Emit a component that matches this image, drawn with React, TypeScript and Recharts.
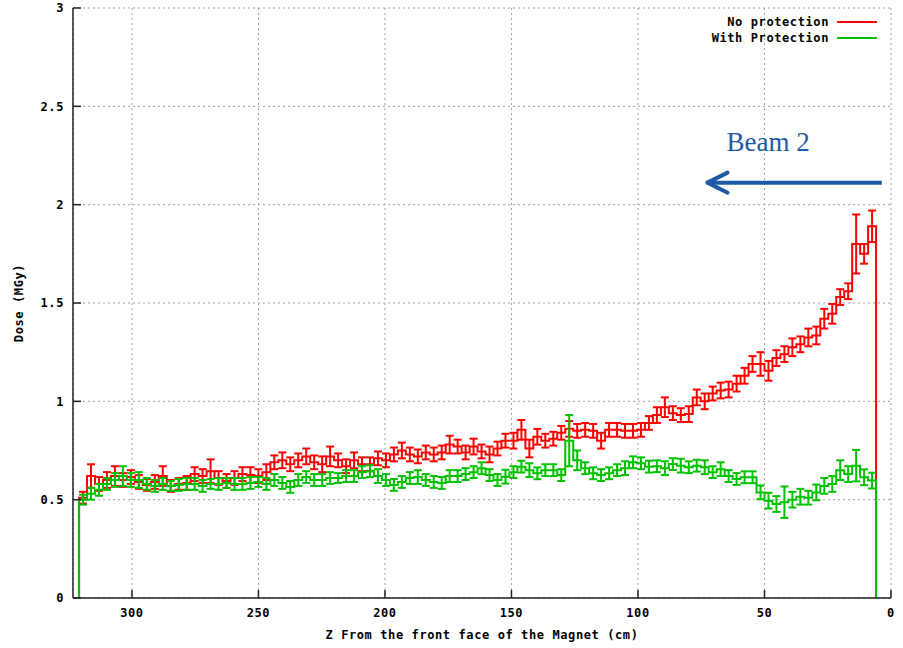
import React from "react";
import {
  ComposedChart,
  Line,
  XAxis,
  YAxis,
  CartesianGrid,
  ErrorBar,
  ReferenceLine,
  ReferenceDot,
} from "recharts";

// Histogram binning along Z (cm): first bin starts at the highest Z, bins go towards the magnet face
const BIN_START = 320.9;
const BIN_WIDTH = 3.15;

// Dose per bin (MGy), ordered from Z = 321 cm down to Z = 6 cm
const noProtection = [
  0.51, 0.62, 0.58, 0.6, 0.62, 0.6, 0.615, 0.59, 0.575, 0.59,
  0.62, 0.57, 0.58, 0.585, 0.63, 0.62, 0.645, 0.61, 0.595, 0.61,
  0.63, 0.625, 0.62, 0.64, 0.69, 0.7, 0.68, 0.7, 0.72, 0.69,
  0.68, 0.72, 0.7, 0.67, 0.7, 0.68, 0.68, 0.71, 0.7, 0.73,
  0.75, 0.73, 0.72, 0.74, 0.73, 0.74, 0.78, 0.77, 0.74, 0.77,
  0.745, 0.73, 0.76, 0.8, 0.8, 0.855, 0.76, 0.82, 0.8, 0.81,
  0.84, 0.86, 0.85, 0.855, 0.85, 0.8, 0.855, 0.855, 0.85, 0.85,
  0.855, 0.89, 0.93, 0.97, 0.94, 0.93, 0.935, 1.02, 1.0, 1.04,
  1.055, 1.06, 1.09, 1.13, 1.19, 1.19, 1.155, 1.22, 1.24, 1.275,
  1.29, 1.325, 1.335, 1.42, 1.445, 1.53, 1.56, 1.8, 1.75, 1.89,
];

const noProtectionErr = [
  0.03, 0.06, 0.035, 0.04, 0.05, 0.035, 0.035, 0.035, 0.03, 0.035,
  0.05, 0.03, 0.03, 0.035, 0.035, 0.035, 0.06, 0.035, 0.035, 0.035,
  0.035, 0.04, 0.035, 0.04, 0.035, 0.04, 0.035, 0.035, 0.04, 0.035,
  0.04, 0.05, 0.035, 0.035, 0.04, 0.035, 0.035, 0.035, 0.035, 0.035,
  0.04, 0.035, 0.035, 0.035, 0.035, 0.035, 0.045, 0.035, 0.035, 0.04,
  0.035, 0.04, 0.035, 0.035, 0.04, 0.05, 0.045, 0.04, 0.035, 0.035,
  0.035, 0.04, 0.035, 0.035, 0.035, 0.04, 0.035, 0.035, 0.035, 0.035,
  0.035, 0.035, 0.04, 0.05, 0.035, 0.035, 0.04, 0.04, 0.04, 0.035,
  0.04, 0.04, 0.04, 0.04, 0.04, 0.06, 0.05, 0.04, 0.04, 0.045,
  0.04, 0.045, 0.045, 0.05, 0.05, 0.04, 0.04, 0.15, 0.05, 0.08,
];

const withProtection = [
  0.5, 0.53, 0.55, 0.58, 0.6, 0.62, 0.6, 0.6, 0.58, 0.57,
  0.58, 0.57, 0.575, 0.58, 0.58, 0.57, 0.58, 0.58, 0.585, 0.58,
  0.58, 0.585, 0.59, 0.58, 0.6, 0.585, 0.565, 0.6, 0.615, 0.6,
  0.6, 0.61, 0.61, 0.62, 0.62, 0.64, 0.645, 0.62, 0.6, 0.575,
  0.59, 0.61, 0.615, 0.6, 0.59, 0.585, 0.62, 0.62, 0.63, 0.64,
  0.66, 0.625, 0.6, 0.617, 0.64, 0.668, 0.65, 0.634, 0.65, 0.65,
  0.625, 0.8, 0.7, 0.66, 0.634, 0.625, 0.634, 0.65, 0.66, 0.69,
  0.685, 0.668, 0.67, 0.66, 0.681, 0.673, 0.665, 0.673, 0.665, 0.64,
  0.655, 0.62, 0.605, 0.614, 0.614, 0.537, 0.495, 0.478, 0.487, 0.5,
  0.515, 0.51, 0.537, 0.57, 0.58, 0.65, 0.63, 0.673, 0.614, 0.597,
];

const withProtectionErr = [
  0.025, 0.03, 0.03, 0.03, 0.035, 0.05, 0.035, 0.04, 0.03, 0.03,
  0.03, 0.025, 0.03, 0.03, 0.03, 0.03, 0.025, 0.03, 0.025, 0.03,
  0.03, 0.03, 0.025, 0.03, 0.03, 0.03, 0.03, 0.03, 0.03, 0.03,
  0.03, 0.03, 0.025, 0.03, 0.03, 0.03, 0.03, 0.035, 0.03, 0.03,
  0.03, 0.03, 0.035, 0.03, 0.03, 0.03, 0.03, 0.03, 0.03, 0.03,
  0.03, 0.03, 0.03, 0.035, 0.03, 0.03, 0.035, 0.03, 0.03, 0.03,
  0.03, 0.13, 0.05, 0.03, 0.03, 0.03, 0.03, 0.03, 0.035, 0.03,
  0.03, 0.03, 0.03, 0.035, 0.03, 0.035, 0.03, 0.03, 0.035, 0.03,
  0.035, 0.03, 0.03, 0.03, 0.03, 0.035, 0.04, 0.04, 0.08, 0.04,
  0.04, 0.035, 0.04, 0.04, 0.04, 0.05, 0.04, 0.08, 0.04, 0.04,
];

const xTicks = [0, 50, 100, 150, 200, 250, 300];
const yTicks = [0, 0.5, 1, 1.5, 2, 2.5, 3];

// "Beam 2" arrow, in data units (Z cm, MGy)
const ARROW_Y = 2.112;
const ARROW_TAIL = 3.65;
const ARROW_TIP = 72.5;
const ARROW_HEAD_LEN = 7.9;
const ARROW_HEAD_HALF = 0.051;
const BEAM_LABEL = { z: 48.6, dose: 2.274 };

const RED = "#ff0000";
const GREEN = "#00c000";
const BLUE = "#1c5aa6";
const MONO = '"DejaVu Sans Mono", monospace';

const monoText = {
  fill: "#000",
  fontSize: 12,
  fontFamily: MONO,
  fontWeight: 700,
  letterSpacing: 0.6,
};

// histeps-like outline: rises from 0 at the outer edge, drops back to 0 at the inner edge
function stepPoints(vals: number[]) {
  const pts = [{ z: BIN_START, v: 0 }];
  vals.forEach((v, i) => pts.push({ z: BIN_START - i * BIN_WIDTH, v }));
  pts.push({ z: BIN_START - vals.length * BIN_WIDTH, v: 0 });
  return pts;
}

function centerPoints(vals: number[], errs: number[]) {
  return vals.map((v, i) => ({
    z: BIN_START - (i + 0.5) * BIN_WIDTH,
    v,
    err: errs[i],
  }));
}

const redSteps = stepPoints(noProtection);
const redBars = centerPoints(noProtection, noProtectionErr);
const greenSteps = stepPoints(withProtection);
const greenBars = centerPoints(withProtection, withProtectionErr);

function KeyBox() {
  const rows = [
    { label: "No protection", color: RED },
    { label: "With Protection", color: GREEN },
  ];
  return (
    <div
      style={{
        position: "absolute",
        left: 640,
        top: 14,
        width: 243,
        fontFamily: MONO,
        fontWeight: 700,
        fontSize: 12,
        letterSpacing: 0.6,
        lineHeight: "16px",
      }}
    >
      {rows.map((r) => (
        <div key={r.label} style={{ display: "flex", alignItems: "center", justifyContent: "flex-end" }}>
          <span>{r.label}</span>
          <svg width={48} height={16} style={{ marginLeft: 6 }}>
            <line x1={2} x2={42} y1={8} y2={8} stroke={r.color} strokeWidth={2} />
          </svg>
        </div>
      ))}
    </div>
  );
}

export default function App() {
  return (
    <div
      style={{
        position: "absolute",
        left: 0,
        top: 0,
        width: 903,
        height: 648,
        background: "#fff",
      }}
    >
      <ComposedChart
        width={903}
        height={648}
        margin={{ top: 8, right: 12, bottom: 0, left: 0 }}
      >
        <CartesianGrid stroke="#a0a0a0" strokeDasharray="2 3" />

        <XAxis
          dataKey="z"
          type="number"
          domain={[0, 323.3]}
          allowDataOverflow
          reversed
          ticks={xTicks}
          height={50}
          tickSize={-8}
          tickMargin={18}
          tick={monoText}
          axisLine={{ stroke: "#222", strokeWidth: 1.5 }}
          tickLine={{ stroke: "#222", strokeWidth: 1.5 }}
          label={{
            value: "Z From the front face of the Magnet (cm)",
            position: "insideBottom",
            offset: 9,
            ...monoText,
          }}
        />
        <XAxis
          xAxisId="top"
          orientation="top"
          type="number"
          domain={[0, 323.3]}
          allowDataOverflow
          reversed
          ticks={xTicks}
          height={0}
          tickSize={-8}
          tick={false}
          axisLine={{ stroke: "#222", strokeWidth: 1.5 }}
          tickLine={{ stroke: "#222", strokeWidth: 1.5 }}
        />
        <YAxis
          type="number"
          domain={[0, 3]}
          allowDataOverflow
          ticks={yTicks}
          width={73}
          tickSize={-8}
          tickMargin={17}
          tick={monoText}
          axisLine={{ stroke: "#222", strokeWidth: 1.5 }}
          tickLine={{ stroke: "#222", strokeWidth: 1.5 }}
          label={(p: any) => {
            const vb = p.viewBox || { x: 0, y: 8, height: 590 };
            const cx = vb.x + 19;
            const cy = vb.y + vb.height / 2;
            return (
              <text
                x={cx}
                y={cy}
                transform={`rotate(-90 ${cx} ${cy})`}
                textAnchor="middle"
                dominantBaseline="central"
                {...monoText}
              >
                Dose (MGy)
              </text>
            );
          }}
        />
        <YAxis
          yAxisId="right"
          orientation="right"
          type="number"
          domain={[0, 3]}
          allowDataOverflow
          ticks={yTicks}
          width={0}
          tickSize={-8}
          tick={false}
          axisLine={{ stroke: "#222", strokeWidth: 1.5 }}
          tickLine={{ stroke: "#222", strokeWidth: 1.5 }}
        />

        <Line
          data={redSteps}
          dataKey="v"
          type="stepAfter"
          stroke={RED}
          strokeWidth={2}
          dot={false}
          activeDot={false}
          isAnimationActive={false}
        />
        <Line
          data={redBars}
          dataKey="v"
          stroke="none"
          dot={false}
          activeDot={false}
          isAnimationActive={false}
        >
          <ErrorBar dataKey="err" direction="y" stroke={RED} strokeWidth={2} width={4} isAnimationActive={false} />
        </Line>

        <Line
          data={greenSteps}
          dataKey="v"
          type="stepAfter"
          stroke={GREEN}
          strokeWidth={2}
          dot={false}
          activeDot={false}
          isAnimationActive={false}
        />
        <Line
          data={greenBars}
          dataKey="v"
          stroke="none"
          dot={false}
          activeDot={false}
          isAnimationActive={false}
        >
          <ErrorBar dataKey="err" direction="y" stroke={GREEN} strokeWidth={2} width={4} isAnimationActive={false} />
        </Line>

        <ReferenceLine
          segment={[
            { x: ARROW_TAIL, y: ARROW_Y },
            { x: ARROW_TIP, y: ARROW_Y },
          ]}
          stroke={BLUE}
          strokeWidth={4}
        />
        <ReferenceLine
          segment={[
            { x: ARROW_TIP, y: ARROW_Y },
            { x: ARROW_TIP - ARROW_HEAD_LEN, y: ARROW_Y + ARROW_HEAD_HALF },
          ]}
          stroke={BLUE}
          strokeWidth={4}
          strokeLinecap="round"
        />
        <ReferenceLine
          segment={[
            { x: ARROW_TIP, y: ARROW_Y },
            { x: ARROW_TIP - ARROW_HEAD_LEN, y: ARROW_Y - ARROW_HEAD_HALF },
          ]}
          stroke={BLUE}
          strokeWidth={4}
          strokeLinecap="round"
        />
        <ReferenceDot
          x={BEAM_LABEL.z}
          y={BEAM_LABEL.dose}
          r={0}
          shape={(p: any) => (
            <text
              x={p.cx}
              y={p.cy}
              textAnchor="middle"
              fill={BLUE}
              fontFamily='"Liberation Serif", "DejaVu Serif", serif'
              fontSize={27}
            >
              Beam 2
            </text>
          )}
        />
      </ComposedChart>
      <KeyBox />
    </div>
  );
}
